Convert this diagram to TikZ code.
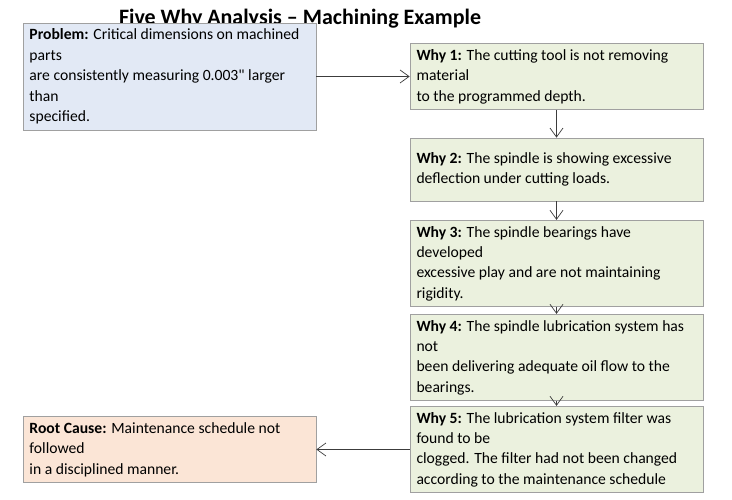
\documentclass[tikz,border=0pt]{standalone}
\usepackage{fontspec}
\setmainfont{Carlito}[Ligatures=TeXOff]
\usetikzlibrary{arrows.meta}
\definecolor{probblue}{RGB}{226, 233, 245}
\definecolor{whygreen}{RGB}{235, 241, 222}
\definecolor{rootorange}{RGB}{251, 229, 214}
\definecolor{boxgray}{RGB}{160, 160, 160}
\definecolor{arrowgray}{RGB}{60, 60, 60}

\begin{document}
\begin{tikzpicture}[
    every node/.style={font=\fontsize{8.9}{11.6}\selectfont},
    box/.style={draw=boxgray, minimum width=5.86cm, minimum height=1.26cm,
      text width=5.6cm, align=flush left, inner xsep=0.13cm},
    link/.style={arrowgray, -{Straight Barb[length=1.8mm, width=2.6mm]}}
  ]
  % Frame
  \useasboundingbox (0,0) rectangle (14.64,10);

  % Title
  \node[font=\fontsize{12.5}{15}\selectfont\bfseries] (title) at (6.0,9.62) {Five Why Analysis – Machining Example};

  % Problem and root cause
  \node[box, fill=probblue] (prob) at (3.39,8.47)
    {\textbf{Problem:} Critical dimensions on machined parts\\ are consistently measuring 0.003" larger than\\ specified.};
  \node[box, fill=rootorange] (root) at (3.39,1.01)
    {\textbf{Root Cause:} Maintenance schedule not followed\\ in a disciplined manner.};

  % Why chain
  \node[box, fill=whygreen] (why1) at (11.13,8.47)
    {\textbf{Why 1:} The cutting tool is not removing material\\ to the programmed depth.};
  \node[box, fill=whygreen] (why2) at (11.13,6.61)
    {\textbf{Why 2:} The spindle is showing excessive\\ deflection under cutting loads.};
  \node[box, fill=whygreen] (why3) at (11.13,4.73)
    {\textbf{Why 3:} The spindle bearings have developed\\ excessive play and are not maintaining rigidity.};
  \node[box, fill=whygreen] (why4) at (11.13,2.85)
    {\textbf{Why 4:} The spindle lubrication system has not\\ been delivering adequate oil flow to the bearings.};
  \node[box, fill=whygreen] (why5) at (11.13,1.01)
    {\textbf{Why 5:} The lubrication system filter was found to be\\ clogged. The filter had not been changed\\ according to the maintenance schedule};

  % Arrows
  \draw[link] (prob) -- (why1);
  \foreach \a/\b in {why1/why2, why2/why3, why3/why4, why4/why5}
    \draw[link] (\a) -- (\b);
  \draw[link] (why5) -- (root);
\end{tikzpicture}
\end{document}
